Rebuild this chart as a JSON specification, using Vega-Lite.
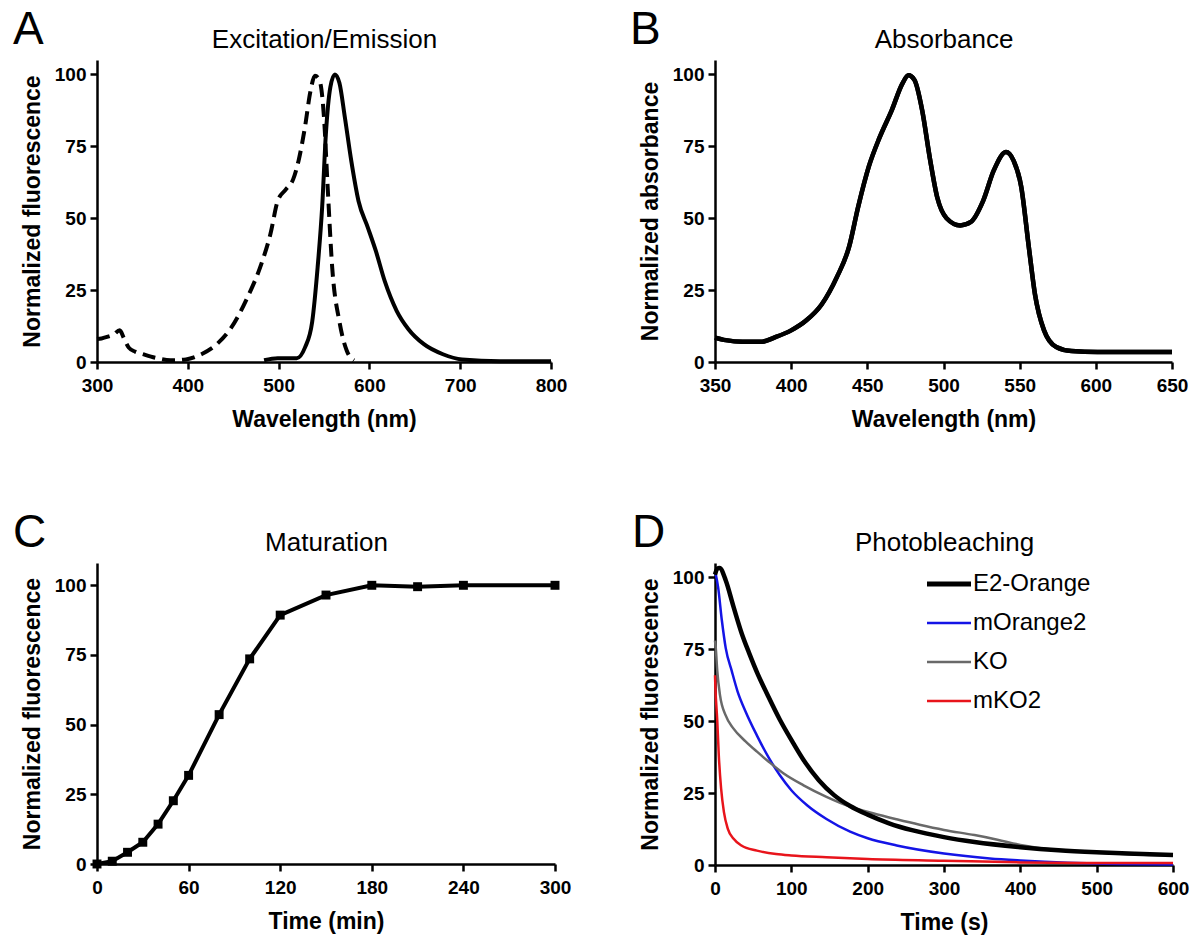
{
  "$schema": "https://vega.github.io/schema/vega-lite/v6.json",
  "background": "white",
  "padding": {"left": 13, "top": 7, "right": 5, "bottom": 5},
  "datasets": {
    "A_ex": [
      {"wl": 300, "v": 8}, {"wl": 305, "v": 8.2}, {"wl": 312, "v": 8.8}, {"wl": 318, "v": 9.5}, {"wl": 325, "v": 11},
      {"wl": 330, "v": 8}, {"wl": 335, "v": 5}, {"wl": 342, "v": 3.6}, {"wl": 350, "v": 2.8}, {"wl": 364, "v": 1.5},
      {"wl": 381, "v": 0.6}, {"wl": 398, "v": 0.9}, {"wl": 415, "v": 2.7}, {"wl": 432, "v": 6.2}, {"wl": 448, "v": 12},
      {"wl": 465, "v": 22}, {"wl": 482, "v": 35}, {"wl": 491, "v": 44.5}, {"wl": 499, "v": 56}, {"wl": 508, "v": 60},
      {"wl": 516, "v": 63.5}, {"wl": 522, "v": 70}, {"wl": 529, "v": 81.6}, {"wl": 535, "v": 94}, {"wl": 540, "v": 99.5},
      {"wl": 545, "v": 98}, {"wl": 550, "v": 85}, {"wl": 554, "v": 61}, {"wl": 559, "v": 33}, {"wl": 567, "v": 14},
      {"wl": 575, "v": 4}, {"wl": 583, "v": 0.6}
    ],
    "A_em": [
      {"wl": 484, "v": 0.6}, {"wl": 499, "v": 1.3}, {"wl": 520, "v": 1.3}, {"wl": 529, "v": 5}, {"wl": 537, "v": 14},
      {"wl": 543, "v": 33}, {"wl": 548, "v": 54}, {"wl": 552, "v": 79}, {"wl": 557, "v": 95.6}, {"wl": 562, "v": 100},
      {"wl": 567, "v": 97}, {"wl": 573, "v": 85}, {"wl": 580, "v": 70}, {"wl": 588, "v": 56}, {"wl": 598, "v": 47},
      {"wl": 607, "v": 38.7}, {"wl": 617, "v": 28}, {"wl": 630, "v": 17.8}, {"wl": 643, "v": 11.4}, {"wl": 660, "v": 6.2},
      {"wl": 681, "v": 2.7}, {"wl": 702, "v": 0.9}, {"wl": 744, "v": 0.3}, {"wl": 800, "v": 0.3}
    ],
    "B": [
      {"wl": 350, "v": 8.5}, {"wl": 357, "v": 7.6}, {"wl": 368, "v": 7}, {"wl": 380, "v": 7}, {"wl": 390, "v": 8.7},
      {"wl": 400, "v": 11}, {"wl": 410, "v": 14.5}, {"wl": 420, "v": 20}, {"wl": 430, "v": 29.5}, {"wl": 438, "v": 40},
      {"wl": 444, "v": 54}, {"wl": 451, "v": 68}, {"wl": 458, "v": 78}, {"wl": 466, "v": 87.5}, {"wl": 473, "v": 96.8},
      {"wl": 477, "v": 99.7}, {"wl": 481, "v": 98}, {"wl": 486, "v": 87.5}, {"wl": 491, "v": 71}, {"wl": 496, "v": 57},
      {"wl": 502, "v": 50}, {"wl": 511, "v": 47.5}, {"wl": 518, "v": 48.7}, {"wl": 526, "v": 56}, {"wl": 533, "v": 66.6},
      {"wl": 541, "v": 73}, {"wl": 546, "v": 70}, {"wl": 551, "v": 61}, {"wl": 556, "v": 40}, {"wl": 560, "v": 23.7},
      {"wl": 566, "v": 11}, {"wl": 574, "v": 5.2}, {"wl": 584, "v": 3.8}, {"wl": 601, "v": 3.5}, {"wl": 650, "v": 3.5}
    ],
    "C": [
      {"t": 0, "v": 0}, {"t": 10, "v": 1}, {"t": 20, "v": 4.2}, {"t": 30, "v": 7.8}, {"t": 40, "v": 14.3},
      {"t": 50, "v": 22.7}, {"t": 60, "v": 31.8}, {"t": 80, "v": 53.6}, {"t": 100, "v": 73.6}, {"t": 120, "v": 89.3},
      {"t": 150, "v": 96.5}, {"t": 180, "v": 100}, {"t": 210, "v": 99.5}, {"t": 240, "v": 100}, {"t": 300, "v": 100}
    ],
    "D": [
      {"s": "mOrange2", "t": 0, "v": 102}, {"s": "mOrange2", "t": 1, "v": 101}, {"s": "mOrange2", "t": 4, "v": 96.7},
      {"s": "mOrange2", "t": 9, "v": 85}, {"s": "mOrange2", "t": 14, "v": 75.5}, {"s": "mOrange2", "t": 22, "v": 67.4},
      {"s": "mOrange2", "t": 29.5, "v": 60.4}, {"s": "mOrange2", "t": 40, "v": 53.4}, {"s": "mOrange2", "t": 55, "v": 45},
      {"s": "mOrange2", "t": 70, "v": 37.5}, {"s": "mOrange2", "t": 85, "v": 31.2}, {"s": "mOrange2", "t": 100, "v": 26},
      {"s": "mOrange2", "t": 121, "v": 20.7}, {"s": "mOrange2", "t": 146, "v": 16}, {"s": "mOrange2", "t": 177, "v": 11.6},
      {"s": "mOrange2", "t": 200, "v": 9.3}, {"s": "mOrange2", "t": 238, "v": 6.8}, {"s": "mOrange2", "t": 300, "v": 4},
      {"s": "mOrange2", "t": 360, "v": 2.3}, {"s": "mOrange2", "t": 400, "v": 1.6}, {"s": "mOrange2", "t": 462, "v": 0.8},
      {"s": "mOrange2", "t": 500, "v": 0.5}, {"s": "mOrange2", "t": 600, "v": 0.2},
      {"s": "KO", "t": 0, "v": 78}, {"s": "KO", "t": 1, "v": 75.5}, {"s": "KO", "t": 3, "v": 67.4}, {"s": "KO", "t": 6.6, "v": 59},
      {"s": "KO", "t": 14, "v": 52}, {"s": "KO", "t": 24, "v": 47.5}, {"s": "KO", "t": 40, "v": 43}, {"s": "KO", "t": 55, "v": 39.4},
      {"s": "KO", "t": 70, "v": 36}, {"s": "KO", "t": 90, "v": 31.8}, {"s": "KO", "t": 116, "v": 27.7}, {"s": "KO", "t": 146, "v": 23.7},
      {"s": "KO", "t": 177, "v": 20.3}, {"s": "KO", "t": 207, "v": 18}, {"s": "KO", "t": 238, "v": 15.9}, {"s": "KO", "t": 268, "v": 14},
      {"s": "KO", "t": 300, "v": 12.2}, {"s": "KO", "t": 340, "v": 10.4}, {"s": "KO", "t": 370, "v": 8.8}, {"s": "KO", "t": 400, "v": 7},
      {"s": "KO", "t": 450, "v": 5.2}, {"s": "KO", "t": 500, "v": 4.3}, {"s": "KO", "t": 600, "v": 3.3},
      {"s": "mKO2", "t": 0, "v": 66}, {"s": "mKO2", "t": 0.5, "v": 62}, {"s": "mKO2", "t": 3, "v": 50}, {"s": "mKO2", "t": 5, "v": 38},
      {"s": "mKO2", "t": 8, "v": 26.6}, {"s": "mKO2", "t": 11.7, "v": 18.4}, {"s": "mKO2", "t": 16.8, "v": 12.6}, {"s": "mKO2", "t": 24.4, "v": 9.1},
      {"s": "mKO2", "t": 34.6, "v": 6.8}, {"s": "mKO2", "t": 55, "v": 5}, {"s": "mKO2", "t": 80, "v": 3.8}, {"s": "mKO2", "t": 100, "v": 3.3},
      {"s": "mKO2", "t": 146, "v": 2.7}, {"s": "mKO2", "t": 200, "v": 2.1}, {"s": "mKO2", "t": 300, "v": 1.5}, {"s": "mKO2", "t": 400, "v": 0.9},
      {"s": "mKO2", "t": 500, "v": 0.7}, {"s": "mKO2", "t": 600, "v": 0.7},
      {"s": "E2-Orange", "t": 0, "v": 101}, {"s": "E2-Orange", "t": 3, "v": 103}, {"s": "E2-Orange", "t": 6, "v": 103.3},
      {"s": "E2-Orange", "t": 14, "v": 99}, {"s": "E2-Orange", "t": 24, "v": 90}, {"s": "E2-Orange", "t": 35, "v": 80.5},
      {"s": "E2-Orange", "t": 45, "v": 73.5}, {"s": "E2-Orange", "t": 55, "v": 67}, {"s": "E2-Orange", "t": 70, "v": 58.5},
      {"s": "E2-Orange", "t": 85, "v": 50.5}, {"s": "E2-Orange", "t": 100, "v": 43.5}, {"s": "E2-Orange", "t": 116, "v": 36.5},
      {"s": "E2-Orange", "t": 136, "v": 29.5}, {"s": "E2-Orange", "t": 156, "v": 24.3}, {"s": "E2-Orange", "t": 177, "v": 20.5},
      {"s": "E2-Orange", "t": 200, "v": 17.5}, {"s": "E2-Orange", "t": 228, "v": 14.5}, {"s": "E2-Orange", "t": 258, "v": 12.1},
      {"s": "E2-Orange", "t": 300, "v": 9.7}, {"s": "E2-Orange", "t": 340, "v": 8}, {"s": "E2-Orange", "t": 400, "v": 6.2},
      {"s": "E2-Orange", "t": 450, "v": 5.1}, {"s": "E2-Orange", "t": 500, "v": 4.4}, {"s": "E2-Orange", "t": 550, "v": 3.9},
      {"s": "E2-Orange", "t": 600, "v": 3.5}
    ]
  },
  "columns": 2,
  "bounds": "flush",
  "spacing": {"row": 201, "column": 160},
  "concat": [
    {
      "width": 454, "height": 302,
      "title": {"text": "A", "anchor": "start", "frame": "group", "dx": -84, "dy": 32},
      "layer": [
        {
          "data": {"name": "A_ex"},
          "mark": {"type": "line", "color": "black", "strokeWidth": 4, "strokeDash": [13, 7], "interpolate": "monotone"},
          "encoding": {
            "x": {"field": "wl", "type": "quantitative", "scale": {"domain": [300, 800], "nice": false}, "axis": {"values": [300, 400, 500, 600, 700, 800], "title": "Wavelength (nm)"}},
            "y": {"field": "v", "type": "quantitative", "scale": {"domain": [0, 105], "nice": false}, "axis": {"values": [0, 25, 50, 75, 100], "title": "Normalized fluorescence"}}
          }
        },
        {
          "data": {"name": "A_em"},
          "mark": {"type": "line", "color": "black", "strokeWidth": 4, "interpolate": "monotone"},
          "encoding": {
            "x": {"field": "wl", "type": "quantitative", "scale": {"domain": [300, 800], "nice": false}, "axis": {"orient": "top", "labels": false, "ticks": false, "domain": false, "title": "Excitation/Emission", "titleFontSize": 26, "titleFontWeight": "normal", "titlePadding": 8}},
            "y": {"field": "v", "type": "quantitative", "scale": {"domain": [0, 105], "nice": false}}
          }
        }
      ],
      "resolve": {"axis": {"x": "independent"}}
    },
    {
      "width": 457, "height": 302,
      "title": {"text": "B", "anchor": "start", "frame": "group", "dx": -85, "dy": 32},
      "layer": [
        {
          "data": {"name": "B"},
          "mark": {"type": "line", "color": "black", "strokeWidth": 4.5, "interpolate": "monotone"},
          "encoding": {
            "x": {"field": "wl", "type": "quantitative", "scale": {"domain": [350, 650], "nice": false}, "axis": {"values": [350, 400, 450, 500, 550, 600, 650], "title": "Wavelength (nm)"}},
            "y": {"field": "v", "type": "quantitative", "scale": {"domain": [0, 105], "nice": false}, "axis": {"values": [0, 25, 50, 75, 100], "title": "Normalized absorbance"}}
          }
        },
        {
          "data": {"name": "B"},
          "mark": {"type": "line", "color": "black", "strokeWidth": 4.5, "interpolate": "monotone"},
          "encoding": {
            "x": {"field": "wl", "type": "quantitative", "scale": {"domain": [350, 650], "nice": false}, "axis": {"orient": "top", "labels": false, "ticks": false, "domain": false, "title": "Absorbance", "titleFontSize": 26, "titleFontWeight": "normal", "titlePadding": 8}},
            "y": {"field": "v", "type": "quantitative", "scale": {"domain": [0, 105], "nice": false}}
          }
        }
      ],
      "resolve": {"axis": {"x": "independent"}}
    },
    {
      "width": 458, "height": 301,
      "title": {"text": "C", "anchor": "start", "frame": "group", "dx": -84, "dy": 32},
      "data": {"name": "C"},
      "layer": [
        {
          "mark": {"type": "line", "color": "black", "strokeWidth": 4},
          "encoding": {
            "x": {"field": "t", "type": "quantitative", "scale": {"domain": [0, 300], "nice": false}, "axis": {"values": [0, 60, 120, 180, 240, 300], "title": "Time (min)"}},
            "y": {"field": "v", "type": "quantitative", "scale": {"domain": [0, 108], "nice": false}, "axis": {"values": [0, 25, 50, 75, 100], "title": "Normalized fluorescence"}}
          }
        },
        {
          "mark": {"type": "point", "shape": "square", "filled": true, "color": "black", "size": 80, "opacity": 1},
          "encoding": {
            "x": {"field": "t", "type": "quantitative", "scale": {"domain": [0, 300], "nice": false}, "axis": {"orient": "top", "labels": false, "ticks": false, "domain": false, "title": "Maturation", "titleFontSize": 26, "titleFontWeight": "normal", "titlePadding": 8}},
            "y": {"field": "v", "type": "quantitative", "scale": {"domain": [0, 108], "nice": false}}
          }
        }
      ],
      "resolve": {"axis": {"x": "independent"}}
    },
    {
      "width": 458, "height": 302,
      "title": {"text": "D", "anchor": "start", "frame": "group", "dx": -83, "dy": 32},
      "data": {"name": "D"},
      "layer": [
        {
          "mark": {"type": "line", "strokeWidth": 2.5, "interpolate": "monotone"},
          "encoding": {
            "x": {"field": "t", "type": "quantitative", "scale": {"domain": [0, 600], "nice": false}, "axis": {"values": [0, 100, 200, 300, 400, 500, 600], "title": "Time (s)"}},
            "y": {"field": "v", "type": "quantitative", "scale": {"domain": [0, 105], "nice": false}, "axis": {"values": [0, 25, 50, 75, 100], "title": "Normalized fluorescence"}},
            "color": {"field": "s", "type": "nominal", "scale": {"domain": ["E2-Orange", "mOrange2", "KO", "mKO2"], "range": ["#000000", "#1414e6", "#696969", "#e8141b"]},
              "legend": {"title": null, "orient": "none", "legendX": 840, "legendY": 512, "symbolType": "stroke", "symbolSize": 1936, "labelFontSize": 24, "labelOffset": 12, "labelColor": "black", "rowPadding": 15,
                "encode": {"symbols": {"update": {"strokeWidth": {"signal": "datum.value === 'E2-Orange' ? 5 : 2.5"}}}}}}
          }
        },
        {
          "transform": [{"filter": "datum.s === 'E2-Orange'"}],
          "mark": {"type": "line", "color": "black", "strokeWidth": 4.5, "interpolate": "monotone"},
          "encoding": {
            "x": {"field": "t", "type": "quantitative", "scale": {"domain": [0, 600], "nice": false}, "axis": {"orient": "top", "labels": false, "ticks": false, "domain": false, "title": "Photobleaching", "titleFontSize": 26, "titleFontWeight": "normal", "titlePadding": 8}},
            "y": {"field": "v", "type": "quantitative", "scale": {"domain": [0, 105], "nice": false}}
          }
        }
      ],
      "resolve": {"axis": {"x": "independent"}}
    }
  ],
  "config": {
    "font": "Liberation Sans",
    "view": {"stroke": null},
    "axis": {
      "grid": false, "domainColor": "black", "domainWidth": 2.5, "tickColor": "black", "tickWidth": 2.5, "tickSize": 7,
      "labelFontSize": 19, "labelFontWeight": "bold", "labelColor": "black", "labelPadding": 4, "labelFlush": false,
      "titleFontSize": 23, "titleFontWeight": "bold", "titleColor": "black", "titlePadding": 10
    },
    "axisX": {"titlePadding": 13, "labelPadding": 7},
    "title": {"fontSize": 46, "fontWeight": "normal", "color": "black", "offset": 0},
    "legend": {"labelFont": "Liberation Sans"}
  }
}
